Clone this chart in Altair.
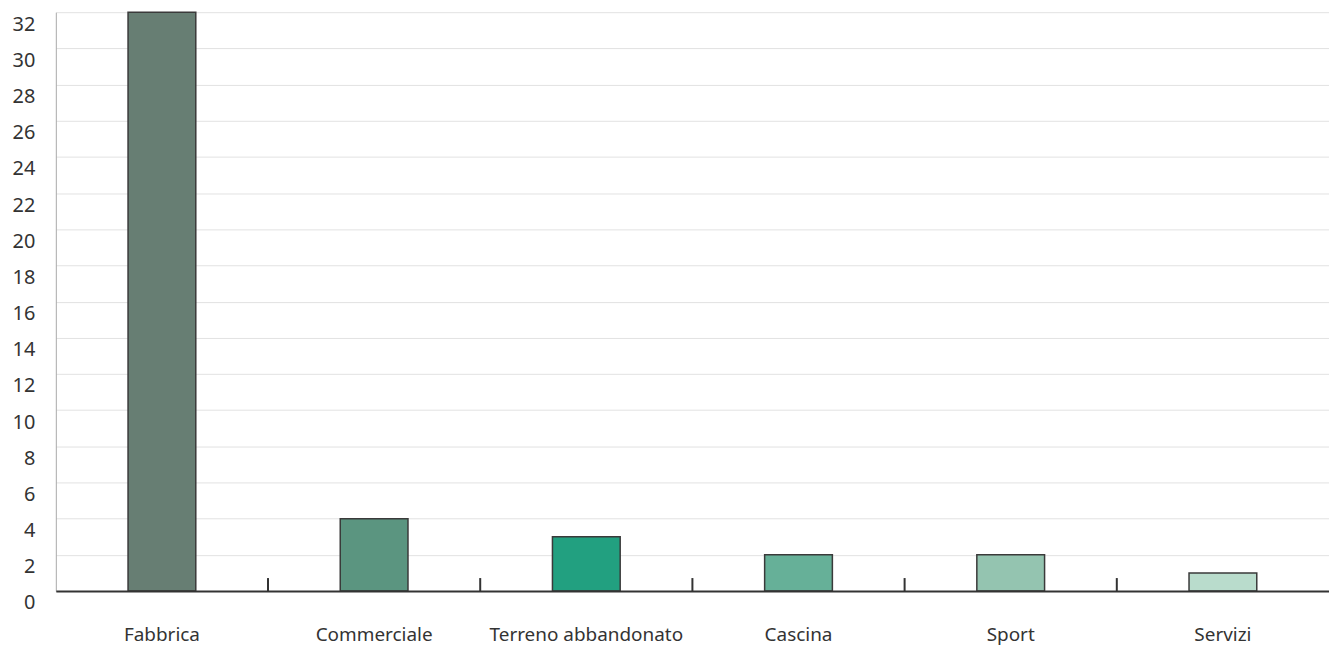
import altair as alt
import pandas as pd

categories = ["Fabbrica", "Commerciale", "Terreno abbandonato", "Cascina", "Sport", "Servizi"]
values = [32, 4, 3, 2, 2, 1]
colors = ["#677e73", "#5b9580", "#22a080", "#66b098", "#94c4b0", "#b9dccc"]
y_ticks = list(range(0, 33, 2))

df = pd.DataFrame({"cat": categories, "val": values})

FONT = "Noto Sans"
H = 581

xscale = alt.Scale(domain=categories, paddingInner=0, paddingOuter=0)

base = alt.Chart(df)

bars = base.mark_bar(size=68, stroke="#3a3a3a", strokeWidth=1.5).encode(
    x=alt.X("cat:N", scale=xscale,
            axis=alt.Axis(title=None, labelAngle=0, labelFontSize=19, labelPadding=35,
                          labelLimit=0, ticks=False, domainColor="#333333", domainWidth=2,
                          labelColor="#333333", labelFont=FONT, grid=False, zindex=1)),
    y=alt.Y("val:Q", scale=alt.Scale(domain=[0, 32], nice=False, zero=True),
            axis=alt.Axis(values=y_ticks, title=None, gridColor="#e2e2e2", gridWidth=1,
                          domainColor="#aaaaaa", domainWidth=1, ticks=False,
                          labelPadding=21, labelOffset=12, labelFontSize=20,
                          labelColor="#333333", labelFont=FONT)),
    color=alt.Color("cat:N", scale=alt.Scale(domain=categories, range=colors), legend=None),
)

ticks = base.transform_filter(alt.datum.cat != categories[0]).mark_rule(
    color="#333333", strokeWidth=2
).encode(
    x=alt.X("cat:N", scale=xscale, bandPosition=0),
    y=alt.value(H - 13),
    y2=alt.value(H),
)

chart = alt.layer(bars, ticks).properties(
    width=1278, height=H,
    padding={"left": 4, "top": 2, "right": 0, "bottom": 5},
).configure_view(stroke=None)

chart.save("out.html", embed_options={"renderer": "svg", "actions": False})
